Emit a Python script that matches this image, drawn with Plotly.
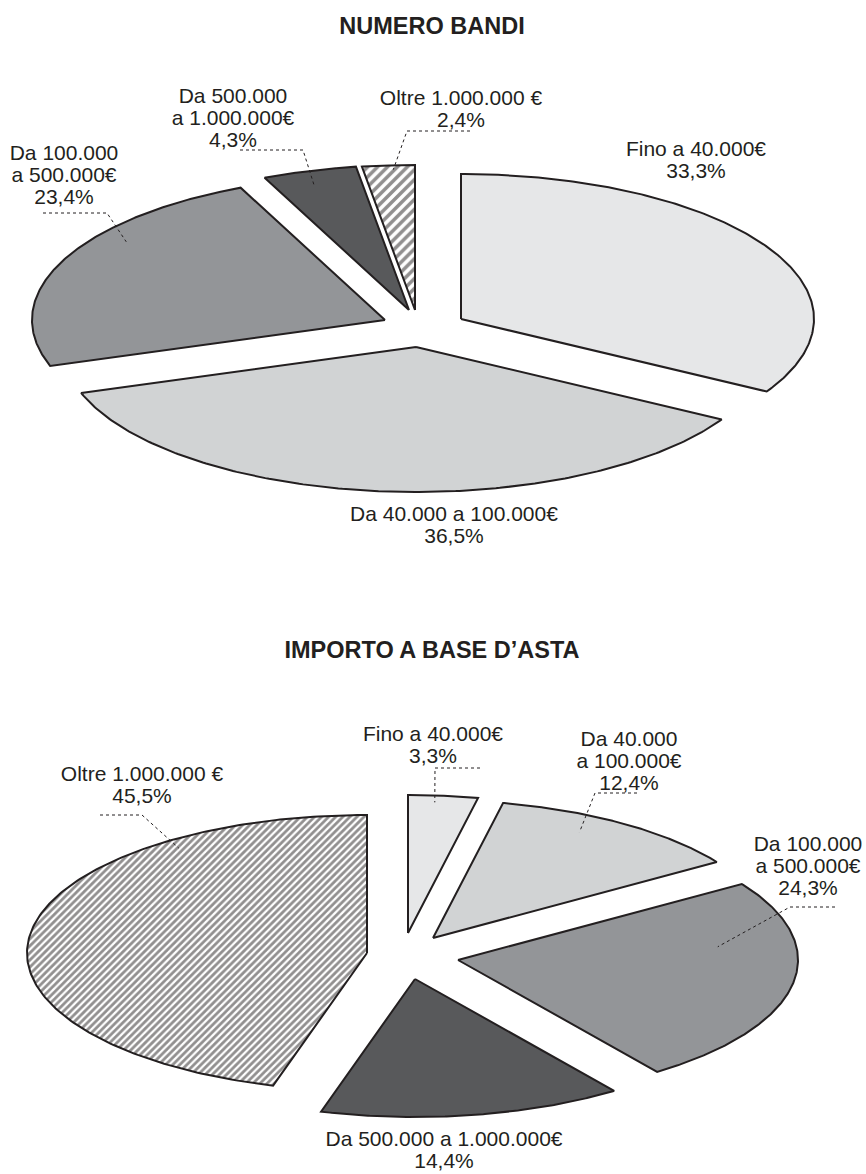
import numpy as np
import plotly.graph_objects as go

# ---------------- data ----------------
categories = ["Fino a 40.000€", "Da 40.000 a 100.000€", "Da 100.000 a 500.000€",
              "Da 500.000 a 1.000.000€", "Oltre 1.000.000 €"]
pct_numero_bandi = [33.3, 36.5, 23.4, 4.3, 2.4]
pct_importo_base_asta = [3.3, 12.4, 24.3, 14.4, 45.5]
titles = ["NUMERO BANDI", "IMPORTO A BASE D’ASTA"]

# ---------------- style ----------------
INK = "#231f20"
FONT = "Liberation Sans, Arial, Helvetica, sans-serif"
fills = ["#e6e7e8", "#d1d3d4", "#939598", "#58595b", None]  # None -> hatched
LABEL_SIZE = 21
LINE_GAP = 22
TITLE_SIZE = 23.5

charts = [
    dict(values=pct_numero_bandi, title=titles[0], cx=415, cy=322, rx=353, ry=145,
         offsets=[(46, -3), (1, 25), (-30, -2), (-6, -12), (0, -12)],
         title_xy=(432, 36),
         wrap=[False, False, True, True, False],
         label_xy=[(696, 158), (454, 523), (64, 162), (233, 105), (461, 107)],
         leaders=[None, None,
                  ((43, 213), (107, 213), 0.65, 0.91),
                  ((240, 150), (303, 150), 0.43, 0.89),
                  ((470, 131), (407, 131), 0.58, 0.97)],
         hatch_size=7, hatch_solid=0.5),
    dict(values=pct_importo_base_asta, title=titles[1], cx=410, cy=955, rx=340, ry=138,
         offsets=[(-2, -22), (23, -17), (48, 5), (5, 24), (-43, -2)],
         title_xy=(432, 660),
         wrap=[False, True, True, False, False],
         label_xy=[(433, 743), (629, 748), (808, 853), (444, 1148), (142, 783)],
         leaders=[((480, 768), (435, 768), 0.40, 0.95),
                  ((637, 793), (595, 793), 0.39, 0.88),
                  ((835, 907), (790, 907), 0.30, 0.77),
                  None,
                  ((100, 815), (142, 815), 0.78, 0.94)],
         hatch_size=5, hatch_solid=0.55),
]


def split_label(cat, wrap):
    if not wrap:
        return [cat]
    i = cat.index(" a ", 3)
    return [cat[:i], cat[i + 1:]]


fig = go.Figure()

for ch in charts:
    vals = np.array(ch["values"], dtype=float)
    total = vals.sum()
    cum = np.concatenate([[0], np.cumsum(vals)])
    starts = 90 - 360 * cum[:-1] / total
    ends = 90 - 360 * cum[1:] / total
    rx, ry = ch["rx"], ch["ry"]
    for i, v in enumerate(vals):
        ax = ch["cx"] + ch["offsets"][i][0]
        ay = ch["cy"] + ch["offsets"][i][1]
        th = np.radians(np.linspace(starts[i], ends[i], 200))
        xs = np.concatenate([[ax], ax + rx * np.cos(th), [ax]])
        ys = np.concatenate([[ay], ay - ry * np.sin(th), [ay]])
        kw = dict(x=xs, y=ys, mode="lines", fill="toself",
                  line=dict(color=INK, width=2), hoverinfo="skip", showlegend=False)
        if fills[i] is None:
            kw["fillcolor"] = "white"
            kw["fillpattern"] = dict(shape="/", fgcolor=INK, bgcolor="white",
                                     size=ch["hatch_size"], solidity=ch["hatch_solid"])
        else:
            kw["fillcolor"] = fills[i]
        fig.add_trace(go.Scatter(**kw))

        # leader line
        ld = ch["leaders"][i]
        if ld is not None:
            (sx, sy), (ex, ey), t, r = ld
            ang = np.radians(starts[i] - t * (starts[i] - ends[i]))
            px = ax + r * rx * np.cos(ang)
            py = ay - r * ry * np.sin(ang)
            fig.add_trace(go.Scatter(x=[sx, ex, px], y=[sy, ey, py], mode="lines",
                                     line=dict(color=INK, width=1, dash="dot"),
                                     hoverinfo="skip", showlegend=False))

        # label
        lines = split_label(categories[i], ch["wrap"][i]) + [f"{v:.1f}".replace(".", ",") + "%"]
        lx, ly = ch["label_xy"][i]
        fig.add_trace(go.Scatter(
            x=[lx] * len(lines),
            y=[ly + k * LINE_GAP - 0.33 * LABEL_SIZE for k in range(len(lines))],
            text=lines, mode="text", textposition="middle center",
            textfont=dict(family=FONT, size=LABEL_SIZE, color=INK),
            hoverinfo="skip", showlegend=False))

    tx, ty = ch["title_xy"]
    fig.add_trace(go.Scatter(x=[tx], y=[ty - 0.33 * TITLE_SIZE], text=[f"<b>{ch['title']}</b>"],
                             mode="text", textposition="middle center",
                             textfont=dict(family=FONT, size=TITLE_SIZE, color=INK),
                             hoverinfo="skip", showlegend=False))

fig.update_layout(
    width=866, height=1174,
    margin=dict(l=0, r=0, t=0, b=0, pad=0),
    paper_bgcolor="white", plot_bgcolor="white",
    xaxis=dict(range=[0, 866], visible=False, fixedrange=True),
    yaxis=dict(range=[1174, 0], visible=False, fixedrange=True),
    showlegend=False,
)

fig.write_html("out.html", config={"displayModeBar": False},
               post_script="document.body.style.margin='0';")
